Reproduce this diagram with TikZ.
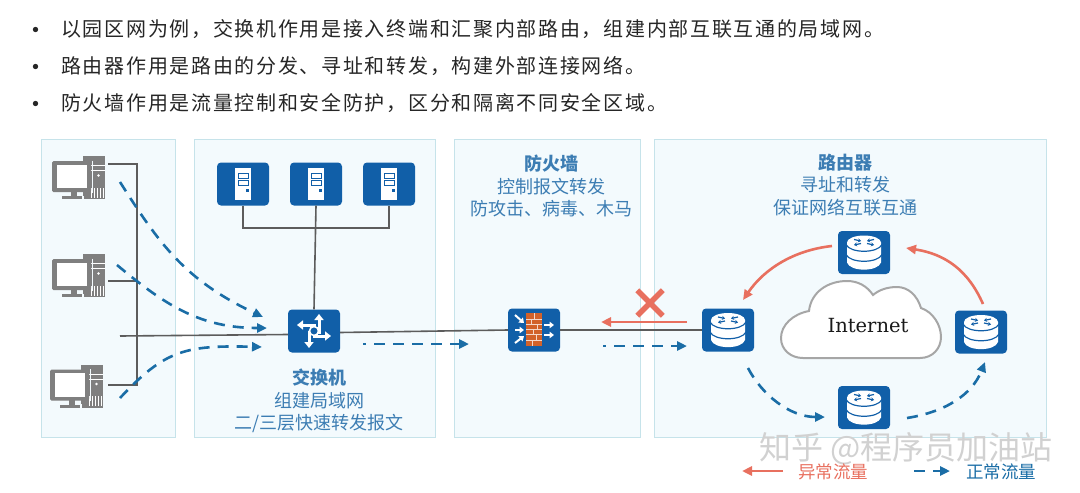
\documentclass[tikz,border=0pt]{standalone}
\usepackage{fontspec}
\usetikzlibrary{arrows.meta,shapes.misc}
\newfontfamily\cjk{Noto Sans CJK SC}
\newfontfamily\cjkwide[LetterSpace=8.5]{Noto Sans CJK SC}
\newfontfamily\serifmark{DejaVu Serif}
\definecolor{paneFill}{HTML}{F3FAFD}
\definecolor{paneEdge}{HTML}{C6E3EA}
\definecolor{iconBlue}{HTML}{115FA8}
\definecolor{flowBlue}{HTML}{1A6DA6}
\definecolor{flowRed}{HTML}{E8705F}
\definecolor{wireGrey}{HTML}{5C5C5C}
\definecolor{pcGrey}{HTML}{7F7F7F}
\definecolor{labelBlue}{HTML}{3C7DB3}
\definecolor{brick}{HTML}{D2622A}
%----icons, drawn round the centre of their node-----------
\newcommand{\iconserver}{
  \fill[white] (-8,-16) rectangle (8,16);
  \draw[iconBlue,line width=.9] (-5,-11) rectangle (5,-6) (-5,-4) rectangle (5,1);
  \fill[iconBlue] (3,5) rectangle (6,8);
}
\newcommand{\iconswitch}{
  \draw[white,line width=3,arrows={-Triangle[length=6,width=9]}] (0,1) -- (5,1) -- (5,-17);
  \draw[white,line width=3,arrows={-Triangle[length=6,width=9]}] (0,-1) -- (0,-6) -- (-17,-6);
  \draw[white,line width=3,arrows={-Triangle[length=6,width=9]}] (0,-1) -- (0,5) -- (17,5);
  \draw[white,line width=3,arrows={-Triangle[length=6,width=9]}] (0,1) -- (-5,1) -- (-5,17);
  \draw[white,line width=1.6,fill=iconBlue] (0,0) circle (4.5pt);
}
\newcommand{\iconwall}{
  \fill[brick] (-8,-17) rectangle (8,16);
  \foreach \yy in {-11,-6,-1,4,10}
    \draw[white!75!brick,line width=.6] (-8,\yy) -- (8,\yy);
  \draw[white!75!brick,line width=.6] (0,-17) -- (0,-11) (-3,-11) -- (-3,-6) (3,-6) -- (3,-1)
    (-1,-1) -- (-1,4) (2,4) -- (2,10) (-2,10) -- (-2,16);
  \foreach \xa/\ya/\xb/\yb in {-19/-15/-10/-7,-19/0/-10/0,-19/13/-10/6,10/-5/20/-5,10/5/20/5}
    \draw[white,line width=2,arrows={-Triangle[length=4.5,width=6.5]}] (\xa,\ya) -- (\xb,\yb);
}
\newcommand{\iconrouter}{
  \fill[white] (-17,-10) -- (-17,10) .. controls (-14,19.5) and (14,19.5) .. (17,10) -- (17,-10) -- cycle;
  \draw[iconBlue,line width=1.2] (-18,-8) .. controls (-14,1) and (14,1) .. (18,-8)
    (-18,2) .. controls (-14,11) and (14,11) .. (18,2);
  \fill[white] (0,-10) ellipse [x radius=17pt,y radius=7pt];
  \draw[iconBlue,line width=1.2,arrows={-Stealth[length=3,width=4]}]
    (-10,-13) -- (-3,-11.5); \draw[iconBlue,line width=1.2,arrows={-Stealth[length=3,width=4]}]
    (10,-13) -- (3,-11.5); \draw[iconBlue,line width=1.2,arrows={-Stealth[length=3,width=4]}]
    (-3,-9) -- (-10,-7.5); \draw[iconBlue,line width=1.2,arrows={-Stealth[length=3,width=4]}]
    (3,-9) -- (10,-7.5);
}
\newcommand{\iconpc}{
  \fill[pcGrey] (4.5,-21.5) rectangle (26.5,21.5);
  \draw[white,line width=.7] (9,-12) -- (26,-12) (9,-7) -- (26,-7);
  \fill[white] (20,-2) circle (1.3pt);
  \foreach \xx in {13,16,19,22,25}
    \draw[white,line width=.7] (\xx,20) -- (\xx,10);
  \fill[pcGrey] (-8,14) rectangle (-2,19);
  \fill[pcGrey] (-16.5,18.5) rectangle (4.5,21.5);
  \draw[paneFill,line width=1.2] (4.5,21.5) -- (4.5,18) (13.8,-17) -- (13.8,15);
  \fill[pcGrey,rounded corners=1.5] (-26.5,-16.5) rectangle (12.5,14.5);
  \fill[white] (-22,-13) rectangle (8.5,10.5);
}
\tikzset{
  iconscope/.style={shift={(path picture bounding box.center)},sharp corners},
  panebox/.style={draw=paneEdge,fill=paneFill,line width=.8},
  iconbox/.style={rectangle,rounded corners=4,minimum width=52,minimum height=43,inner sep=0,fill=iconBlue},
  serverbox/.style={iconbox,path picture={\begin{scope}[iconscope]\iconserver\end{scope}}},
  switchbox/.style={iconbox,path picture={\begin{scope}[iconscope]\iconswitch\end{scope}}},
  wallbox/.style={iconbox,path picture={\begin{scope}[iconscope]\iconwall\end{scope}}},
  routerbox/.style={iconbox,path picture={\begin{scope}[iconscope]\iconrouter\end{scope}}},
  pcbox/.style={rectangle,minimum width=53,minimum height=43,inner sep=0,path picture={\begin{scope}[iconscope]\iconpc\end{scope}}},
  wire/.style={draw=wireGrey,line width=1.6},
  flow/.style={draw=flowBlue,line width=2.6,dash pattern=on 11pt off 8pt,arrows={-Triangle[length=10,width=9]}},
  badflow/.style={draw=flowRed,line width=2.6,arrows={-Triangle[length=10,width=9]}},
  panetext/.style={font=\cjk\fontsize{18}{22.5}\selectfont,text=labelBlue,align=center,inner sep=0},
  bullettext/.style={font=\cjkwide\fontsize{20}{22}\selectfont,text=black!85,anchor=west,inner sep=0},
  dotnode/.style={font=\cjk\fontsize{25}{30}\selectfont,text=black!85,inner sep=0},
  legendtext/.style={font=\cjk\fontsize{17.5}{20}\selectfont,inner sep=0}
}
\begin{document}
\begin{tikzpicture}[x=1pt,y=-1pt]
\useasboundingbox (0,0) rectangle (1080,493);
%----------text at the top---------------------
\node[dotnode] (dotA) at (36,33) {•};
\node[dotnode] (dotB) at (36,70) {•};
\node[dotnode] (dotC) at (36,107) {•};
\node[bullettext] (lineA) at (61,29) {以园区网为例，交换机作用是接入终端和汇聚内部路由，组建内部互联互通的局域网。};
\node[bullettext] (lineB) at (61,66) {路由器作用是路由的分发、寻址和转发，构建外部连接网络。};
\node[bullettext] (lineC) at (61,103) {防火墙作用是流量控制和安全防护，区分和隔离不同安全区域。};
%----------panes-------------------------------
\draw[panebox] (41,139) rectangle (175,437);
\draw[panebox] (194,139) rectangle (435,437);
\draw[panebox] (454,139) rectangle (640,437);
\draw[panebox] (654,139) rectangle (1046,437);
%----------devices-----------------------------
\node[pcbox] (pcA) at (78.5,177.5) {};
\node[pcbox] (pcB) at (78.5,275.5) {};
\node[pcbox] (pcC) at (76.5,386) {};
\node[serverbox] (srvA) at (243,184) {};
\node[serverbox] (srvB) at (316,184) {};
\node[serverbox] (srvC) at (389,184) {};
\node[switchbox] (swt) at (314,331) {};
\node[wallbox] (wall) at (534,330) {};
\node[routerbox] (rtL) at (728,330) {};
\node[routerbox] (rtT) at (864,252.5) {};
\node[routerbox] (rtR) at (981,332) {};
\node[routerbox] (rtB) at (864,407.5) {};
%----------wires-------------------------------
\coordinate (pcAend) at (108,164);
\coordinate (pcBend) at (108,281);
\coordinate (pcCend) at (108,385);
\coordinate (busT) at (137,164);
\coordinate (busB) at (137,385);
\coordinate (trunk) at (120,336);
\coordinate (swtIn) at (288,334.5);
\coordinate (swtOut) at (340,332.5);
\coordinate (srvBus) at (316,228);
\draw[wire] (pcAend) -- (busT) -- (busB) -- (pcCend);
\draw[wire] (pcBend) -- (137,281);
\draw[wire] (trunk) -- (swtIn);
\draw[wire] (swtOut) -- (wall.west);
\draw[wire] (wall.east) -- (rtL.west);
\draw[wire] (srvA.south) |- (srvBus) -| (srvC.south);
\draw[wire] (srvB.south) -- (swt.north);
%----------normal flows------------------------
\coordinate (flowAs) at (120,182);
\coordinate (flowAe) at (263,317);
\coordinate (flowBs) at (117,265);
\coordinate (flowBe) at (267,328);
\coordinate (flowCs) at (120,398);
\coordinate (flowCe) at (262,347);
\draw[flow] (flowAs) .. controls (160,245) and (185,280) .. (flowAe);
\draw[flow] (flowBs) .. controls (165,305) and (200,328) .. (flowBe);
\draw[flow] (flowCs) .. controls (165,350) and (185,345) .. (flowCe);
\coordinate (swtOutS) at (363,344);
\coordinate (swtOutE) at (469,344);
\coordinate (rtOutS) at (603,346);
\coordinate (rtOutE) at (687,346);
\draw[flow,dash phase=8pt] (swtOutS) -- (swtOutE);
\draw[flow,dash phase=8pt] (rtOutS) -- (rtOutE);
\draw[flow] (748,368) coordinate (rtLout) .. controls (762,395) and (790,417) .. (825,417) coordinate (rtBin);
\draw[flow] (907,418) coordinate (rtBout) .. controls (945,412) and (972,395) .. (985,362) coordinate (rtRin);
%----------abnormal flows----------------------
\coordinate (badS) at (687,322);
\coordinate (badE) at (601,322);
\draw[badflow] (badS) -- (badE);
\node[cross out,draw=flowRed,line width=5.5,minimum size=20,inner sep=0] (block) at (650,303) {};
\draw[badflow] (983,304) coordinate (rtRout) .. controls (968,270) and (945,254) .. (906,248) coordinate (rtTin);
\draw[badflow] (832,246) coordinate (rtTout) .. controls (795,250) and (765,268) .. (743,300) coordinate (rtLin);
%----------cloud-------------------------------
\draw[draw=black!35,fill=white,line width=2] (803,358) -- (920,358)
    .. controls (933,358) and (941,348) .. (941,337)
    .. controls (941,325) and (933,312) .. (921,308)
    .. controls (917,295) and (908,287) .. (897,287)
    .. controls (887,287) and (879,290) .. (873,295)
    .. controls (867,286) and (858,281) .. (847,281)
    .. controls (828,281) and (811,292) .. (809,311)
    .. controls (793,314) and (781,325) .. (781,338)
    .. controls (781,350) and (791,358) .. (803,358) -- cycle;
\node[font=\serifmark\fontsize{19.5}{22}\selectfont,text=black!90,inner sep=0] (inet) at (868,326) {Internet};
%----------labels------------------------------
\node[panetext] (swtText) at (319,401) {\textbf{交换机}\\组建局域网\\二/三层快速转发报文};
\node[panetext] (wallText) at (551,186) {\textbf{防火墙}\\控制报文转发\\防攻击、病毒、木马};
\node[panetext] (rtText) at (845,185) {\textbf{路由器}\\寻址和转发\\保证网络互联互通};
%----------watermark and legend----------------
\node[font=\cjk\fontsize{32}{36}\selectfont,text=black!18,inner sep=0] (mark) at (906,449) {知乎 @程序员加油站};
\coordinate (legRedS) at (783,471);
\coordinate (legRedE) at (742,471);
\coordinate (legBlueS) at (914,471);
\coordinate (legBlueE) at (950,471);
\draw[badflow] (legRedS) -- (legRedE);
\draw[flow] (legBlueS) -- (legBlueE);
\node[legendtext,text=flowRed] (legRed) at (833,472) {异常流量};
\node[legendtext,text=flowBlue] (legBlue) at (1001,472) {正常流量};
\end{tikzpicture}
\end{document}
